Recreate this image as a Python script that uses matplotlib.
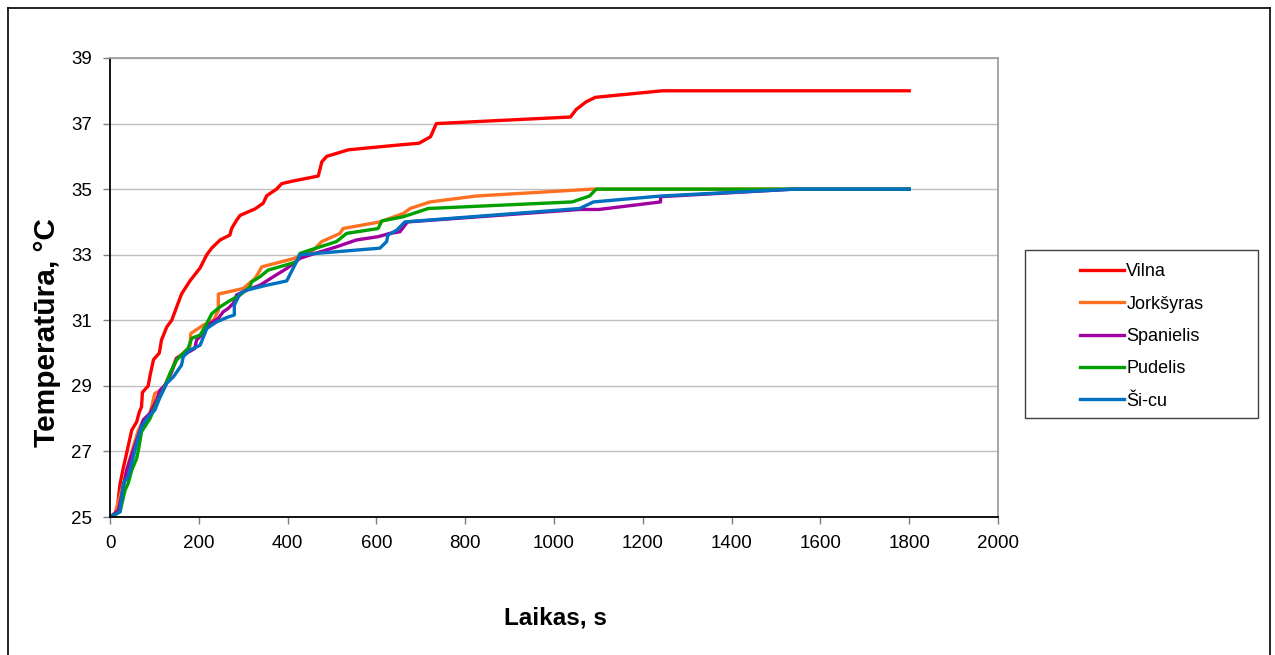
import matplotlib
matplotlib.use("Agg")
import matplotlib.pyplot as plt
from matplotlib.lines import Line2D
from matplotlib.patches import Rectangle

plt.rcParams['font.family'] = ['Liberation Sans', 'DejaVu Sans']

series_names = ["Vilna", "Jorkšyras", "Spanielis", "Pudelis", "Ši-cu"]
series_colors = ["#FF0000", "#FF7020", "#A000A0", "#00A000", "#0070C0"]

vilna_x = [0, 15, 22.5, 30, 37.5, 49, 60, 66, 71, 73, 86, 90, 98, 111, 116, 128, 139, 161, 180, 203, 218,
           229, 248, 270, 274, 285, 293, 327, 345, 353, 375, 387, 413, 469, 477, 488, 537, 653, 696, 722,
           735, 1037, 1050, 1072, 1093, 1244, 1800]
vilna_y = [25, 25.1, 26.0, 26.5, 26.95, 27.65, 27.9, 28.2, 28.36, 28.8, 29.0, 29.3, 29.8, 30.0, 30.4, 30.8,
           31.0, 31.8, 32.2, 32.6, 33.0, 33.2, 33.45, 33.6, 33.8, 34.05, 34.2, 34.4, 34.57, 34.8, 35.0,
           35.17, 35.25, 35.4, 35.83, 36.0, 36.2, 36.35, 36.4, 36.6, 37.0, 37.2, 37.43, 37.66, 37.8, 38.0, 38.0]

jork_x = [0, 11, 30, 41, 52.5, 64, 75, 90, 101, 116, 128, 139, 149, 165, 180, 182, 210, 233, 244, 244, 300,
          327, 342, 413, 458, 477, 518, 525, 608, 661, 676, 721, 825, 1085, 1800]
jork_y = [25, 25.1, 26.0, 26.6, 27.15, 27.65, 27.95, 28.16, 28.77, 28.87, 29.12, 29.48, 29.84, 30.0, 30.2,
          30.6, 30.85, 31.0, 31.3, 31.8, 31.97, 32.28, 32.63, 32.88, 33.14, 33.4, 33.65, 33.8, 34.0, 34.26,
          34.41, 34.61, 34.79, 35.0, 35.0]

span_x = [0, 19, 30, 37.5, 52.5, 64, 75, 90, 105, 113, 124, 139, 150, 173, 191, 195, 210, 225, 244, 255, 266,
          278, 285, 308, 338, 368, 398, 428, 450, 510, 555, 604, 630, 653, 670, 1058, 1101, 1240, 1240, 1540, 1800]
span_y = [25, 25.2, 25.9, 26.43, 27.04, 27.5, 27.96, 28.16, 28.57, 28.87, 29.02, 29.43, 29.84, 30.0, 30.14,
          30.4, 30.6, 30.9, 31.06, 31.26, 31.36, 31.52, 31.77, 31.92, 32.07, 32.33, 32.58, 32.89, 32.99,
          33.24, 33.45, 33.55, 33.65, 33.7, 34.0, 34.38, 34.38, 34.61, 34.77, 35.0, 35.0]

pud_x = [0, 22.5, 34, 41, 49, 60, 64, 71, 90, 105, 120, 135, 150, 176, 184, 203, 218, 229, 248, 270, 293,
         315, 319, 338, 356, 420, 428, 450, 510, 533, 604, 612, 661, 717, 1041, 1080, 1095, 1800]
pud_y = [25, 25.16, 25.82, 26.03, 26.43, 26.79, 27.04, 27.6, 28.0, 28.47, 28.87, 29.38, 29.79, 30.14, 30.45,
         30.55, 30.9, 31.2, 31.41, 31.6, 31.77, 32.02, 32.17, 32.33, 32.53, 32.78, 33.04, 33.14, 33.4,
         33.65, 33.8, 34.03, 34.16, 34.41, 34.61, 34.79, 35.0, 35.0]

sicu_x = [0, 22.5, 30, 41, 52.5, 64, 71, 86, 101, 113, 128, 143, 161, 165, 180, 203, 218, 240, 266, 280, 280,
          293, 308, 353, 398, 428, 608, 623, 626, 646, 664, 1058, 1089, 1240, 1540, 1800]
sicu_y = [25, 25.16, 26.03, 26.23, 26.84, 27.45, 27.75, 28.06, 28.26, 28.67, 29.08, 29.28, 29.63, 29.89,
          30.09, 30.24, 30.75, 30.95, 31.1, 31.16, 31.46, 31.82, 31.92, 32.07, 32.2, 33.0, 33.2, 33.4, 33.6,
          33.75, 34.0, 34.41, 34.61, 34.79, 35.0, 35.0]

x_ticks = list(range(0, 2001, 200))
y_ticks = [25, 27, 29, 31, 33, 35, 37, 39]
x_label = "Laikas, s"
y_label = "Temperatūra, °C"

W, H = 1275, 655
fig = plt.figure(figsize=(W / 100, H / 100), dpi=100)
ax = fig.add_axes([110 / W, 1 - 517 / H, (998 - 110) / W, (517 - 58) / H])

data = [(vilna_x, vilna_y), (jork_x, jork_y), (span_x, span_y), (pud_x, pud_y), (sicu_x, sicu_y)]
for (xs, ys), name, c in zip(data, series_names, series_colors):
    ax.plot(xs, ys, color=c, lw=2.4, label=name, solid_joinstyle='round')

ax.set_xlim(0, 2000)
ax.set_ylim(25, 39)
ax.set_xticks(x_ticks)
ax.set_yticks(y_ticks)
ax.yaxis.grid(True, color="#BFBFBF", lw=1.0)
ax.set_axisbelow(True)
ax.tick_params(axis='both', direction='out', length=5, width=1, color="#808080", labelsize=13.5)
ax.tick_params(axis='x', pad=8)
ax.tick_params(axis='y', pad=8)
for s in ['left', 'bottom']:
    ax.spines[s].set_color("#000000")
    ax.spines[s].set_linewidth(1.3)
for s in ['top', 'right']:
    ax.spines[s].set_color("#A0A0A0")
    ax.spines[s].set_linewidth(1.3)

fig.text(555 / W, 1 - 618 / H, x_label, ha='center', va='center', fontsize=17.5, fontweight='bold')
fig.text(47 / W, 1 - 333 / H, y_label, ha='center', va='center', fontsize=21.5, fontweight='bold', rotation=90)

# legend box
fig.patches.append(Rectangle((1025 / W, 1 - 418 / H), (1258 - 1025) / W, (418 - 250) / H,
                             transform=fig.transFigure, facecolor='white', edgecolor='#404040', lw=1.0))
leg = fig.legend(loc='upper left', bbox_to_anchor=(1073 / W, 1 - 256 / H), frameon=False,
                 fontsize=13, handlelength=2.4, handletextpad=0.15, labelspacing=0.85, borderaxespad=0)

# outer chart border
for (x0, y0, x1, y1) in [(8, 8, 8, 660), (8, 8, 1270, 8), (1270, 8, 1270, 660)]:
    fig.lines.append(Line2D([x0 / W, x1 / W], [1 - y0 / H, 1 - y1 / H], transform=fig.transFigure,
                            color='black', lw=1.2))

fig.savefig("out.png", dpi=100)
